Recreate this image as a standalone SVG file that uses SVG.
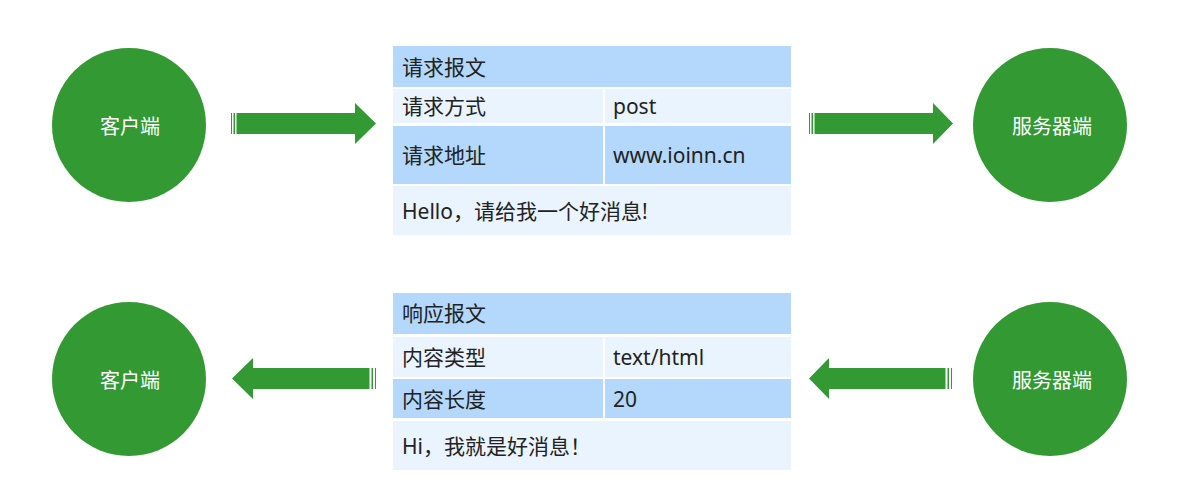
<svg xmlns="http://www.w3.org/2000/svg" width="1182" height="493" viewBox="0 0 1182 493">
<style>
.node{fill:#339933}
.ntext{fill:#ffffff;font-family:"Noto Sans CJK SC","Noto Sans",sans-serif;font-size:20px;text-anchor:middle;dominant-baseline:central}
.hd{fill:#b3d8fc}
.lt{fill:#eaf4fe}
.t{fill:#222222;font-family:"Noto Sans","Noto Sans CJK SC",sans-serif;font-size:21px;dominant-baseline:central}
.arr{fill:#339933}
</style>
<rect width="1182" height="493" fill="#ffffff"/>
<g id="client-top"><circle class="node" cx="129" cy="125" r="77"/><text class="ntext" x="130" y="125">客户端</text></g>
<g id="server-top"><circle class="node" cx="1050" cy="125" r="77"/><text class="ntext" x="1052" y="125">服务器端</text></g>
<g id="client-bottom"><circle class="node" cx="129" cy="379" r="77"/><text class="ntext" x="130" y="379">客户端</text></g>
<g id="server-bottom"><circle class="node" cx="1050" cy="379" r="77"/><text class="ntext" x="1052" y="379">服务器端</text></g>
<g id="request">
<rect class="hd" x="393" y="46" width="398" height="41"/>
<text class="t" x="402" y="67">请求报文</text>
<rect class="lt" x="393" y="89" width="210" height="34"/>
<rect class="lt" x="605" y="89" width="186" height="34"/>
<text class="t" x="402" y="106">请求方式</text>
<text class="t" x="613" y="106">post</text>
<rect class="hd" x="393" y="126" width="210" height="58"/>
<rect class="hd" x="605" y="126" width="186" height="58"/>
<text class="t" x="402" y="155">请求地址</text>
<text class="t" x="613" y="155">www.ioinn.cn</text>
<rect class="lt" x="393" y="186" width="398" height="49"/>
<text class="t" x="402" y="211">Hello，请给我一个好消息!</text>
</g>
<g id="response">
<rect class="hd" x="393" y="293" width="398" height="41"/>
<text class="t" x="402" y="313">响应报文</text>
<rect class="lt" x="393" y="337" width="210" height="40"/>
<rect class="lt" x="605" y="337" width="186" height="40"/>
<text class="t" x="402" y="357">内容类型</text>
<text class="t" x="613" y="357">text/html</text>
<rect class="hd" x="393" y="379" width="210" height="39"/>
<rect class="hd" x="605" y="379" width="186" height="39"/>
<text class="t" x="402" y="399">内容长度</text>
<text class="t" x="613" y="399">20</text>
<rect class="lt" x="393" y="421" width="398" height="49"/>
<text class="t" x="402" y="446">Hi，我就是好消息！</text>
</g>
<g id="connectors">
<g id="arrow-top-left">
<rect class="arr" x="231" y="113" width="1" height="21"/>
<rect class="arr" x="233.5" y="113" width="1.5" height="21"/>
<polygon class="arr" points="236.5,113 355,113 355,103 376,123.5 355,144 355,134 236.5,134"/>
</g>
<g id="arrow-top-right">
<rect class="arr" x="809" y="113" width="1" height="21"/>
<rect class="arr" x="811.5" y="113" width="1.5" height="21"/>
<polygon class="arr" points="814.5,113 933,113 933,103 953,123.5 933,144 933,134 814.5,134"/>
</g>
<g id="arrow-bottom-left">
<rect class="arr" x="375" y="368" width="1" height="21"/>
<rect class="arr" x="371.5" y="368" width="1.5" height="21"/>
<polygon class="arr" points="369.5,368 253,368 253,358 232,378.5 253,399 253,389 369.5,389"/>
</g>
<g id="arrow-bottom-right">
<rect class="arr" x="951" y="368" width="1" height="21"/>
<rect class="arr" x="947.5" y="368" width="1.5" height="21"/>
<polygon class="arr" points="945.5,368 829,368 829,358 809,378.5 829,399 829,389 945.5,389"/>
</g>
</g>
</svg>
